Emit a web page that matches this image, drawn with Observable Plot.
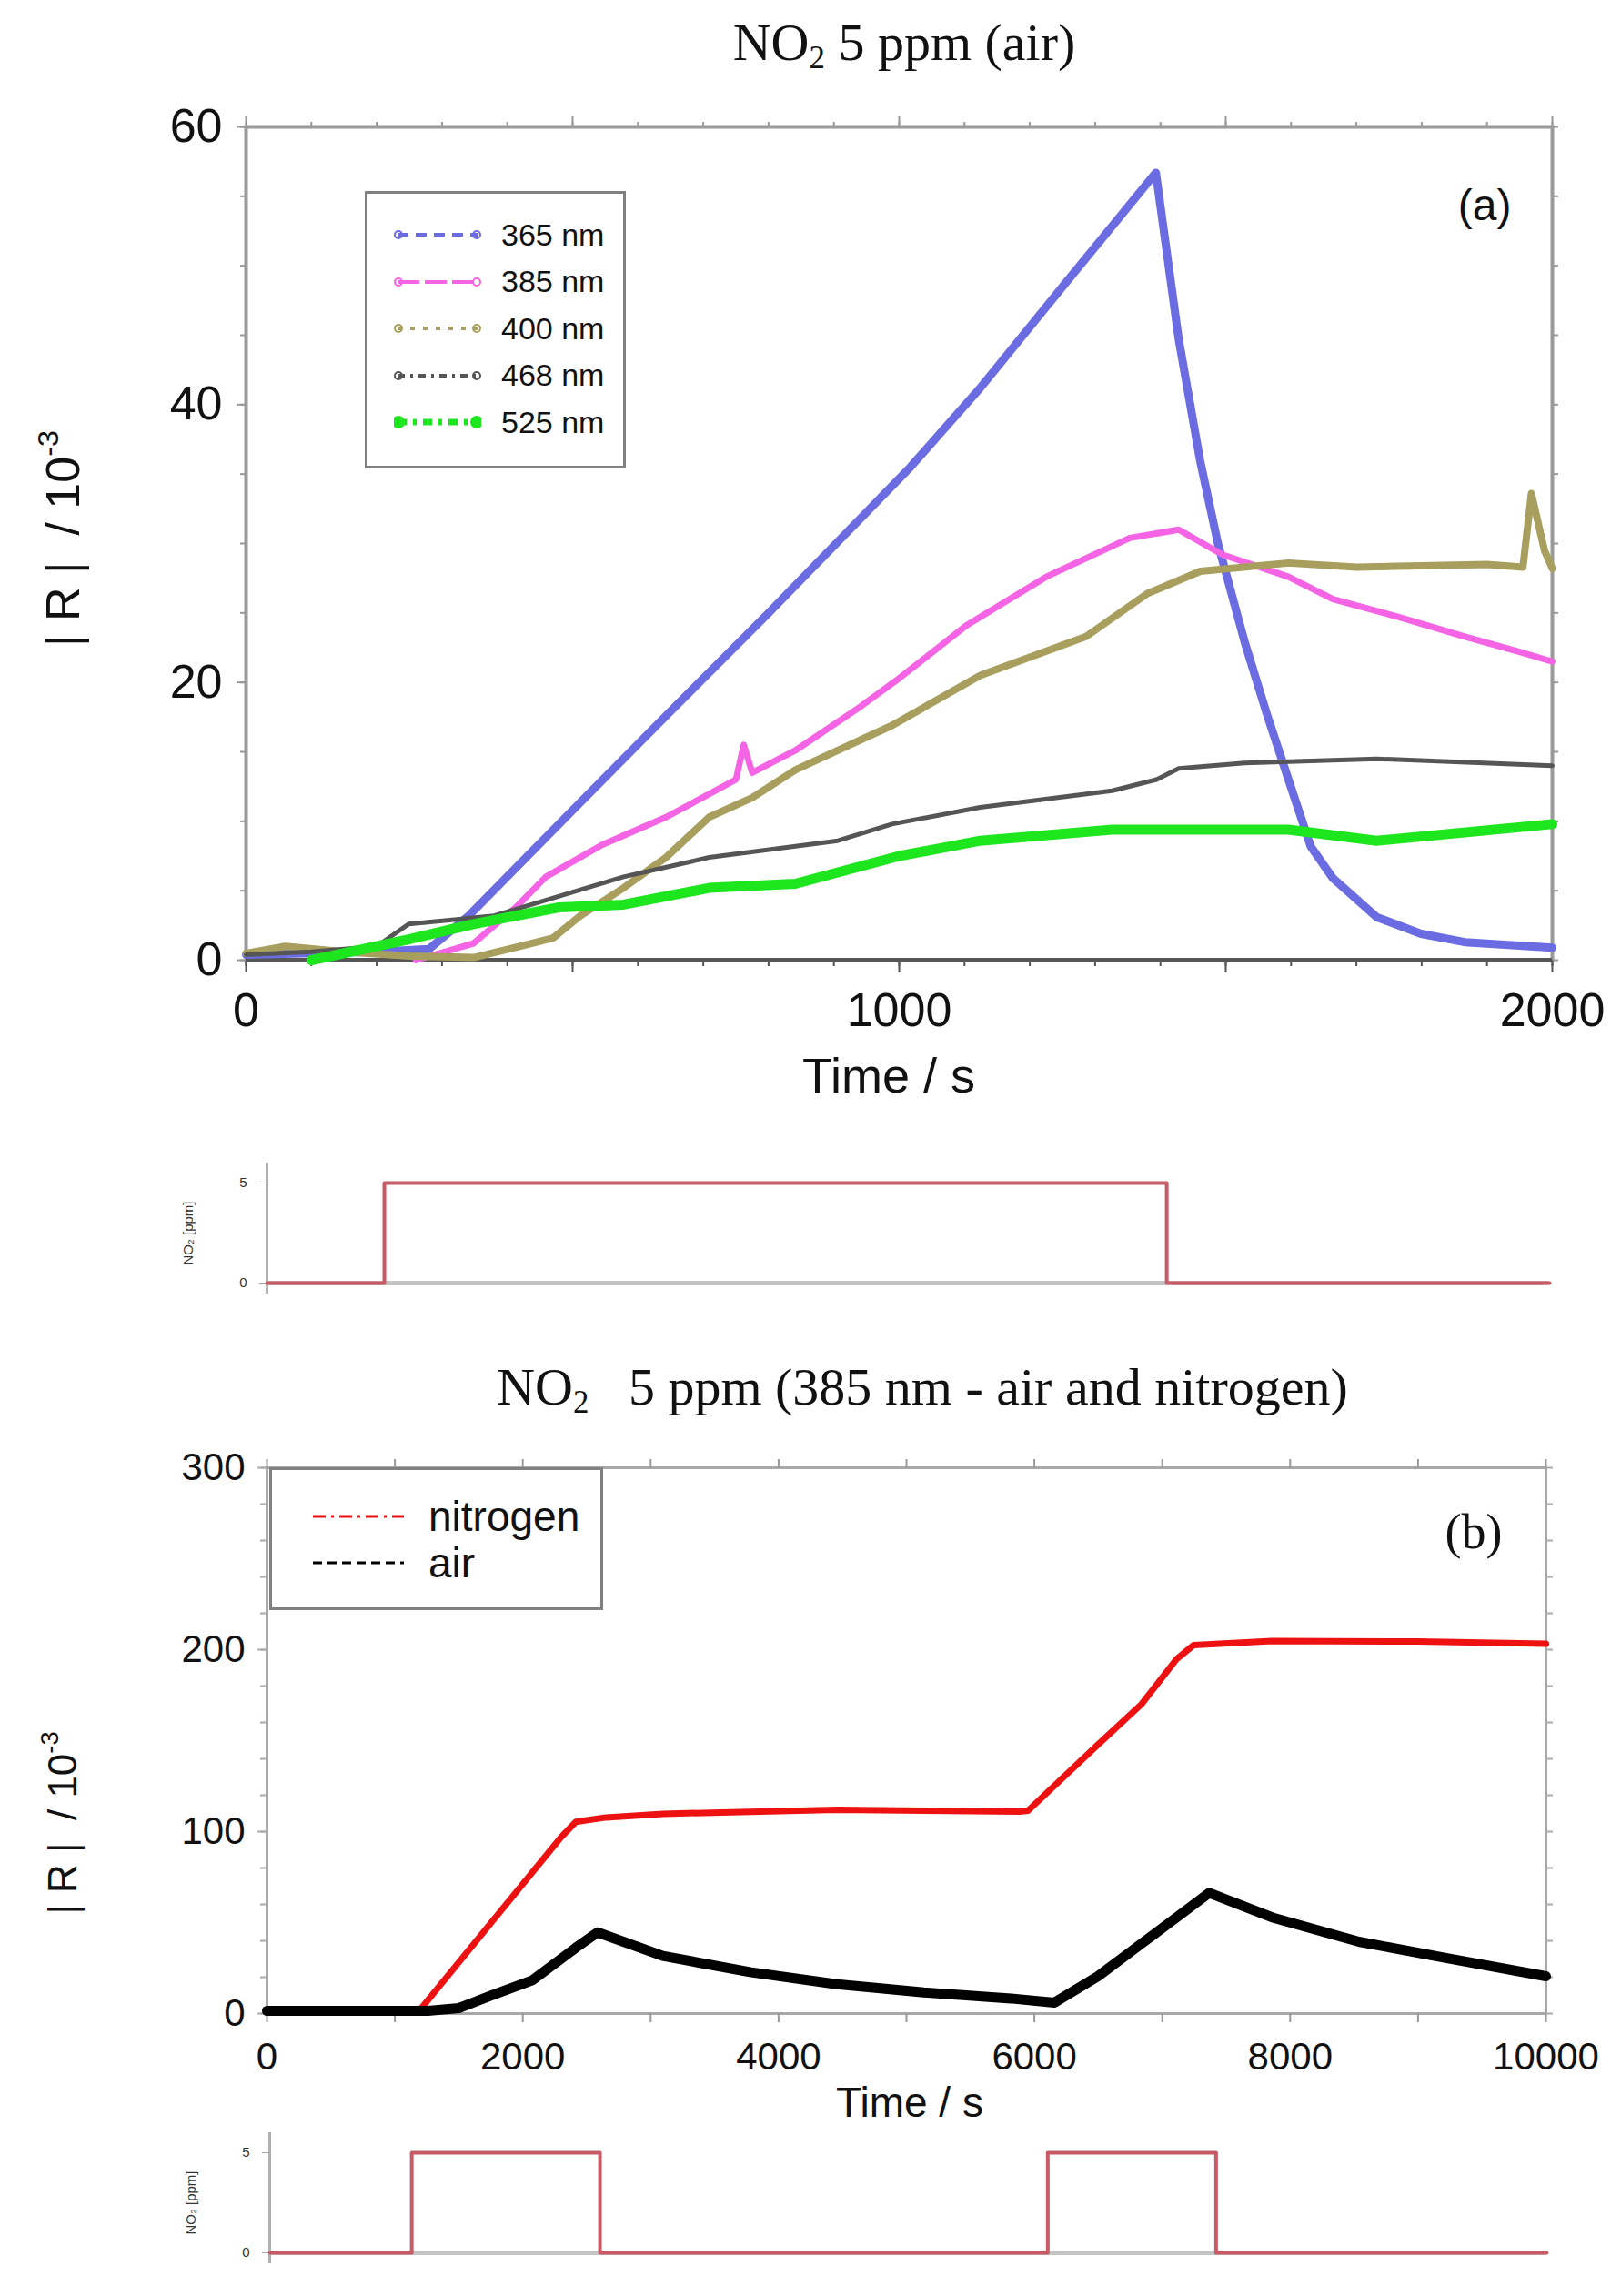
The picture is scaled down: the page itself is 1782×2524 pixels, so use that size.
<!DOCTYPE html>
<html>
<head>
<meta charset="utf-8">
<script src="https://cdn.jsdelivr.net/npm/d3@7"></script>
<script src="https://cdn.jsdelivr.net/npm/@observablehq/plot@0.6"></script>
<style>
  body { margin: 0; background: #fff; }
  #page { position: relative; width: 1782px; height: 2524px; overflow: hidden;
          font-family: "Liberation Sans", Arial, sans-serif; color: #111; background: #fff; }
  .abs { position: absolute; }
  .title { font-family: "Liberation Serif", "Times New Roman", serif; font-size: 58px;
           white-space: nowrap; transform: translateX(-50%); line-height: 1; }
  .title sub { font-size: 60%; vertical-align: -0.25em; }
  .ylab { white-space: pre; transform: translate(-50%, -50%) rotate(-90deg); line-height: 1; }
  .ylab sup { font-size: 62%; vertical-align: 0.7em; }
  .xlab { white-space: nowrap; transform: translate(-50%, -50%); line-height: 1; }
  .legend { border: 3px solid #808080; background: #fff; box-sizing: border-box; }
  .legend .row { position: absolute; display: flex; align-items: center; height: 40px; white-space: nowrap; }
  .legend svg { display: block; }
</style>
</head>
<body>
<div id="page"></div>
<script>
// ---------- panel (a): NO2 5 ppm in air, |R| / 10^-3 vs time (s) ----------
const t365 = [0, 100, 200, 280, 341, 500, 643, 800, 1017, 1124, 1259, 1393, 1428, 1461, 1488, 1529, 1563, 1596, 1630, 1664, 1731, 1799, 1866, 2000]
const v365 = [0.4, 0.5, 0.6, 0.8, 3.2, 10.8, 17.6, 25.0, 35.5, 41.2, 49.0, 56.7, 44.7, 35.9, 30.0, 22.9, 17.7, 13.0, 8.2, 5.9, 3.1, 1.9, 1.3, 0.9]

const t385 = [260, 348, 413, 459, 545, 643, 750, 762, 775, 841, 939, 1000, 1103, 1225, 1353, 1428, 1495, 1596, 1664, 1765, 1866, 1950, 2000]
const v385 = [0, 1.2, 3.8, 6.0, 8.3, 10.3, 13.0, 15.5, 13.5, 15.1, 18.2, 20.3, 24.1, 27.6, 30.4, 31.0, 29.2, 27.6, 26.0, 24.7, 23.3, 22.2, 21.5]

const t400 = [0, 60, 150, 250, 350, 420, 470, 512, 578, 643, 709, 775, 841, 906, 989, 1124, 1286, 1380, 1461, 1596, 1700, 1799, 1900, 1955, 1968, 1988, 2000]
const v400 = [0.5, 1.0, 0.6, 0.3, 0.2, 1.0, 1.6, 3.2, 5.2, 7.4, 10.3, 11.7, 13.7, 15.1, 16.9, 20.5, 23.3, 26.4, 28.0, 28.6, 28.3, 28.4, 28.5, 28.3, 33.6, 29.5, 28.2]

const t468 = [0, 100, 200, 249, 380, 578, 709, 906, 989, 1124, 1326, 1394, 1428, 1529, 1731, 2000]
const v468 = [0.4, 0.6, 1.0, 2.6, 3.2, 6.0, 7.4, 8.6, 9.8, 11.0, 12.2, 13.0, 13.8, 14.2, 14.5, 14.0]

const t525 = [100, 249, 348, 479, 578, 709, 841, 1000, 1124, 1326, 1596, 1731, 2000]
const v525 = [0, 1.5, 2.6, 3.8, 4.0, 5.2, 5.5, 7.5, 8.6, 9.4, 9.4, 8.6, 9.8]

const namesA = ["365 nm", "385 nm", "400 nm", "468 nm", "525 nm"]
const colorsA = ["#6b6be2", "#f464e4", "#a89f5e", "#555555", "#1ee61e"]

// gas pulse for (a): NO2 [ppm]
const pulseAT = [0, 183, 1403, 2000]
const pulseAV = [0, 5, 0, 0]

// ---------- panel (b): 385 nm, nitrogen vs air ----------
const tN2 = [0, 1190, 2300, 2415, 2650, 3095, 4456, 5884, 5950, 6497, 6837, 7109, 7245, 7857, 9000, 10000]
const vN2 = [1.5, 1.5, 97.0, 105.4, 107.8, 109.8, 112.0, 111.0, 111.5, 147.8, 170.0, 194.6, 202.5, 204.7, 204.5, 203.2]

const tAir = [0, 1258, 1500, 1735, 2075, 2415, 2585, 3095, 3776, 4456, 5136, 5816, 6156, 6497, 6837, 7367, 7857, 8537, 9218, 10000]
const vAir = [1.5, 1.5, 3.0, 9.4, 18.3, 36.2, 44.6, 31.7, 22.8, 16.1, 11.6, 8.3, 6.0, 20.5, 38.4, 66.3, 52.9, 39.5, 30.6, 20.5]

const namesB = ["nitrogen", "air"]
const colorsB = ["#ee1111", "#000000"]

const pulseBT = [0, 1112, 2586, 6092, 7410, 10000]
const pulseBV = [0, 5, 0, 5, 0, 0]

const rows = (T, V) => T.map((t, i) => ({t, v: V[i]}))
const page = d3.select("#page")
const fmt = d3.format("d")

function place(node, left, top) {
  d3.select(node).style("position", "absolute").style("left", left + "px").style("top", top + "px")
  page.append(() => node)
}

// ---------- titles ----------
page.append("div").attr("class", "abs title").style("left", "994px").style("top", "18px")
  .html("NO<sub>2</sub> 5 ppm (air)")
page.append("div").attr("class", "abs title").style("left", "1014px").style("top", "1496px")
  .html("NO<sub>2</sub>&nbsp;&nbsp; 5 ppm (385 nm - air and nitrogen)")

// ---------- chart (a) ----------
const widthsA = [9, 7, 8, 5, 11]
const seriesA = [[t365, v365], [t385, v385], [t400, v400], [t468, v468], [t525, v525]]

const chartA = Plot.plot({
  width: 1782,
  height: 1115,
  marginLeft: 270,
  marginRight: 76,
  marginTop: 39,
  marginBottom: 160,
  x: {domain: [0, 2000]},
  y: {domain: [0, 60]},
  style: {fontFamily: "Liberation Sans, Arial, sans-serif", fontSize: 52, overflow: "visible", background: "transparent"},
  marks: [
    Plot.frame({stroke: "#9a9a9a", strokeWidth: 4}),
    Plot.axisX({ticks: d3.range(0, 2001, 100), tickSize: 7, fill: "none", stroke: "#555", strokeWidth: 2}),
    Plot.axisX({ticks: d3.range(0, 2001, 500), tickSize: 14, fill: "none", stroke: "#555", strokeWidth: 2}),
    Plot.axisX({ticks: [0, 1000, 2000], tickSize: 0, tickPadding: 36, tickFormat: fmt, fill: "#111", label: null}),
    Plot.axisX({anchor: "top", ticks: d3.range(0, 2001, 100), tickSize: 6, fill: "none", stroke: "#999", strokeWidth: 2}),
    Plot.axisX({anchor: "top", ticks: d3.range(0, 2001, 500), tickSize: 12, fill: "none", stroke: "#999", strokeWidth: 2}),
    Plot.axisY({ticks: d3.range(0, 61, 5), tickSize: 6, fill: "none", stroke: "#999", strokeWidth: 2}),
    Plot.axisY({ticks: [0, 20, 40, 60], tickSize: 10, tickPadding: 16, tickFormat: fmt, fill: "#111", stroke: "#999", strokeWidth: 2, label: null}),
    Plot.axisY({anchor: "right", ticks: d3.range(0, 61, 5), tickSize: 6, fill: "none", stroke: "#999", strokeWidth: 2}),
    Plot.ruleY([0], {stroke: "#555", strokeWidth: 5}),
    ...seriesA.map(([T, V], i) =>
      Plot.line(rows(T, V), {x: "t", y: "v", stroke: colorsA[i], strokeWidth: widthsA[i], strokeLinejoin: "round"})),
    Plot.text(["(a)"], {frameAnchor: "top-right", dx: -45, dy: 68, fontSize: 48, fill: "#111"})
  ]
})
place(chartA, 0, 100)

page.append("div").attr("class", "abs xlab").style("font-size", "54px").style("left", "977px").style("top", "1182px").text("Time / s")
page.append("div").attr("class", "abs ylab").style("font-size", "52px").style("left", "66px").style("top", "592px")
  .html("| R |  / 10<sup>-3</sup>")

// legend (a)
const dashA = ["12,8", "24,6", "5,9", "8,6,3,6", "10,7,4,7"]
const legA = page.append("div").attr("class", "abs legend")
  .style("left", "401px").style("top", "210px").style("width", "287px").style("height", "305px")
namesA.forEach((name, i) => {
  const row = legA.append("div").attr("class", "row").style("left", "29px").style("top", `${25 + i * 51.5}px`)
  const svg = row.append("svg").attr("width", 96).attr("height", 40)
  svg.append("line").attr("x1", 4).attr("x2", 92).attr("y1", 20).attr("y2", 20)
    .attr("stroke", colorsA[i]).attr("stroke-width", i === 4 ? 7 : 4).attr("stroke-dasharray", dashA[i])
  svg.selectAll("circle").data([5, 91]).join("circle").attr("cx", d => d).attr("cy", 20).attr("r", i === 4 ? 6 : 4)
    .attr("fill", i === 4 ? colorsA[i] : "none").attr("stroke", colorsA[i]).attr("stroke-width", 2)
  row.append("span").style("font-size", "34px").style("margin-left", "22px").text(name)
})

// ---------- pulse charts ----------
function pulseChart(T, V, domainMax, mLeft, mRight) {
  return Plot.plot({
    width: 1782,
    height: 170,
    marginLeft: mLeft,
    marginRight: mRight,
    marginTop: 30,
    marginBottom: 30,
    x: {domain: [0, domainMax], axis: null},
    y: {domain: [0, 5]},
    style: {fontFamily: "Liberation Sans, Arial, sans-serif", fontSize: 15, overflow: "visible", background: "transparent"},
    marks: [
      Plot.ruleY([0], {stroke: "#c4c4c4", strokeWidth: 5}),
      Plot.ruleX([0], {stroke: "#b0b0b0", strokeWidth: 3, insetTop: -22, insetBottom: -12}),
      Plot.axisY({ticks: [0, 5], tickSize: 8, tickPadding: 14, tickFormat: fmt, fill: "#333", stroke: "#aaa",
        label: "NO₂ [ppm]", labelAnchor: "center", labelArrow: "none", labelOffset: 92}),
      Plot.line(rows(T, V), {x: "t", y: "v", curve: "step-after", stroke: "#c85a66", strokeWidth: 4})
    ]
  })
}
place(pulseChart(pulseAT, pulseAV, 2000, 293, 79), 0, 1270)

// ---------- chart (b) ----------
const seriesB = [[tN2, vN2], [tAir, vAir]]
const widthsB = [7, 11]

const chartB = Plot.plot({
  width: 1782,
  height: 703,
  marginLeft: 293,
  marginRight: 83,
  marginTop: 33,
  marginBottom: 70,
  x: {domain: [0, 10000]},
  y: {domain: [0, 300]},
  style: {fontFamily: "Liberation Sans, Arial, sans-serif", fontSize: 42, overflow: "visible", background: "transparent"},
  marks: [
    Plot.frame({stroke: "#a8a8a8", strokeWidth: 3}),
    Plot.axisX({ticks: d3.range(0, 10001, 1000), tickSize: 10, fill: "none", stroke: "#999", strokeWidth: 2}),
    Plot.axisX({ticks: d3.range(0, 10001, 2000), tickSize: 0, tickPadding: 32, tickFormat: fmt, fill: "#111", label: null}),
    Plot.axisX({anchor: "top", ticks: d3.range(0, 10001, 1000), tickSize: 10, fill: "none", stroke: "#999", strokeWidth: 2}),
    Plot.axisY({ticks: d3.range(0, 301, 20), tickSize: 7, fill: "none", stroke: "#aaa", strokeWidth: 2}),
    Plot.axisY({ticks: [0, 100, 200, 300], tickSize: 10, tickPadding: 14, tickFormat: fmt, fill: "#111", stroke: "#aaa", strokeWidth: 2, label: null}),
    Plot.axisY({anchor: "right", ticks: d3.range(0, 301, 20), tickSize: 7, fill: "none", stroke: "#aaa", strokeWidth: 2}),
    ...seriesB.map(([T, V], i) =>
      Plot.line(rows(T, V), {x: "t", y: "v", stroke: colorsB[i], strokeWidth: widthsB[i], strokeLinejoin: "round"})),
    Plot.text(["(b)"], {frameAnchor: "top-right", dx: -48, dy: 50, fontSize: 54, fontFamily: "Liberation Serif, serif", fill: "#111"})
  ]
})
place(chartB, 0, 1580)

page.append("div").attr("class", "abs xlab").style("font-size", "46px").style("left", "1000px").style("top", "2311px").text("Time / s")
page.append("div").attr("class", "abs ylab").style("font-size", "44px").style("left", "66px").style("top", "2004px")
  .html("| R |  / 10<sup>-3</sup>")

// legend (b)
const dashB = ["14,6,3,6", "10,6"]
const legB = page.append("div").attr("class", "abs legend")
  .style("left", "296px").style("top", "1613px").style("width", "367px").style("height", "157px")
namesB.forEach((name, i) => {
  const row = legB.append("div").attr("class", "row").style("left", "42px").style("top", `${31 + i * 51}px`)
  const svg = row.append("svg").attr("width", 106).attr("height", 40)
  svg.append("line").attr("x1", 3).attr("x2", 103).attr("y1", 20).attr("y2", 20)
    .attr("stroke", colorsB[i]).attr("stroke-width", 3).attr("stroke-dasharray", dashB[i])
  row.append("span").style("font-size", "46px").style("margin-left", "24px").text(name)
})

place(pulseChart(pulseBT, pulseBV, 10000, 296, 82), 0, 2336)
</script>
</body>
</html>
